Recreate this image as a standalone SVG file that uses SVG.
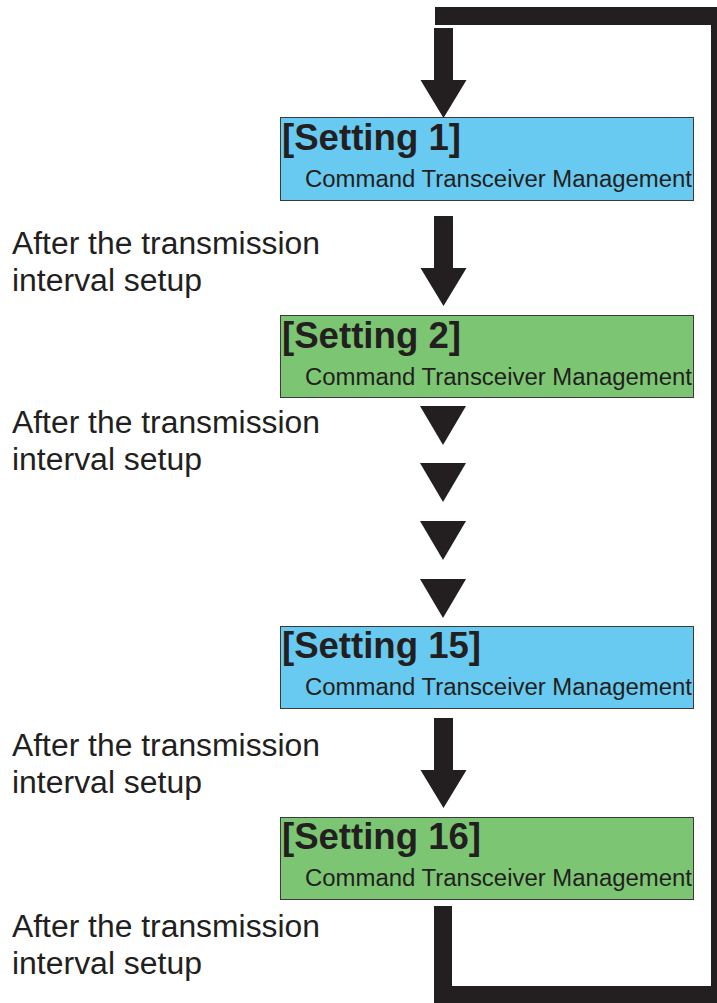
<svg xmlns="http://www.w3.org/2000/svg" width="717" height="1003" viewBox="0 0 717 1003">
<style>
.box{stroke:#3a3a3a;stroke-width:1}
.blue{fill:#68CAF1}
.green{fill:#7CC673}
.title{font-family:"Liberation Sans",Arial,sans-serif;font-weight:bold;font-size:36px;fill:#231F20}
.sub{font-family:"Liberation Sans",Arial,sans-serif;font-size:23.5px;fill:#231F20}
.lbl{font-family:"Liberation Sans",Arial,sans-serif;font-size:31px;fill:#231F20}
.dark{fill:#231F20}
</style>
<defs>
<path id="arr" d="M-9.5,0 H9.5 V52 H23 L0,90 L-23,52 H-9.5 Z" class="dark"/>
<path id="tri" d="M-23,0 H23 L0,39 Z" class="dark"/>
</defs>
<g id="connectors">
<path d="M443,906 V995 H720 V16 H435" fill="none" stroke="#231F20" stroke-width="18"/>
<use href="#arr" x="443.5" y="28"/>
<use href="#arr" x="443.5" y="216"/>
<use href="#tri" x="443" y="406"/>
<use href="#tri" x="443" y="463"/>
<use href="#tri" x="443" y="521"/>
<use href="#tri" x="443" y="579"/>
<use href="#arr" x="443.5" y="718"/>
</g>
<g id="setting1">
<rect class="box blue" x="280.5" y="117.5" width="413" height="83"/>
<text class="title" x="282" y="150" textLength="179" lengthAdjust="spacingAndGlyphs">[Setting 1]</text>
<text class="sub" x="305" y="187" textLength="387" lengthAdjust="spacingAndGlyphs">Command Transceiver Management</text>
</g>
<g id="setting2">
<rect class="box green" x="280.5" y="315.5" width="413" height="82"/>
<text class="title" x="282" y="348" textLength="179" lengthAdjust="spacingAndGlyphs">[Setting 2]</text>
<text class="sub" x="305" y="385" textLength="387" lengthAdjust="spacingAndGlyphs">Command Transceiver Management</text>
</g>
<g id="setting15">
<rect class="box blue" x="280.5" y="626.5" width="413" height="82"/>
<text class="title" x="282" y="658" textLength="199" lengthAdjust="spacingAndGlyphs">[Setting 15]</text>
<text class="sub" x="305" y="695" textLength="387" lengthAdjust="spacingAndGlyphs">Command Transceiver Management</text>
</g>
<g id="setting16">
<rect class="box green" x="280.5" y="817.5" width="413" height="82"/>
<text class="title" x="282" y="849" textLength="199" lengthAdjust="spacingAndGlyphs">[Setting 16]</text>
<text class="sub" x="305" y="886" textLength="387" lengthAdjust="spacingAndGlyphs">Command Transceiver Management</text>
</g>
<g id="label1">
<text class="lbl" x="12" y="254" textLength="308" lengthAdjust="spacingAndGlyphs">After the transmission</text>
<text class="lbl" x="12" y="291" textLength="190" lengthAdjust="spacingAndGlyphs">interval setup</text>
</g>
<g id="label2">
<text class="lbl" x="12" y="433" textLength="308" lengthAdjust="spacingAndGlyphs">After the transmission</text>
<text class="lbl" x="12" y="470" textLength="190" lengthAdjust="spacingAndGlyphs">interval setup</text>
</g>
<g id="label3">
<text class="lbl" x="12" y="756" textLength="308" lengthAdjust="spacingAndGlyphs">After the transmission</text>
<text class="lbl" x="12" y="793" textLength="190" lengthAdjust="spacingAndGlyphs">interval setup</text>
</g>
<g id="label4">
<text class="lbl" x="12" y="937" textLength="308" lengthAdjust="spacingAndGlyphs">After the transmission</text>
<text class="lbl" x="12" y="974" textLength="190" lengthAdjust="spacingAndGlyphs">interval setup</text>
</g>
</svg>
